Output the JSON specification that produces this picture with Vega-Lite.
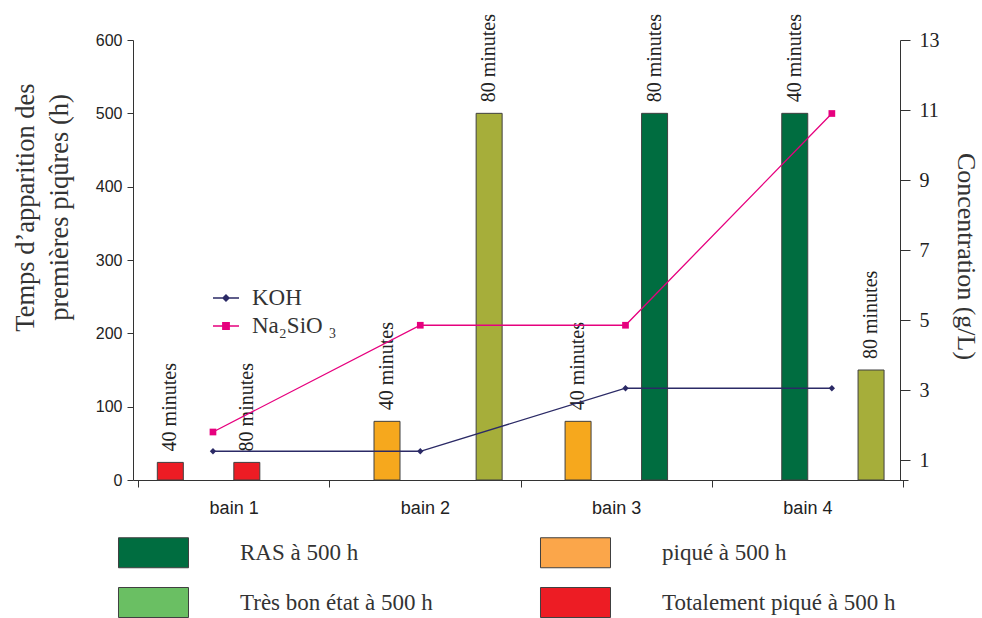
{
  "$schema": "https://vega.github.io/schema/vega-lite/v6.json",
  "width": 775,
  "height": 440,
  "autosize": {"type": "none"},
  "padding": {"left": 133, "top": 40, "right": 74, "bottom": 138},
  "background": "white",
  "config": {"view": {"stroke": null}, "axis": {"grid": false}},
  "datasets": {
    "barres": [
      {"bain": "bain 1", "duree": "40 minutes", "pos": 0.669, "temps": 24, "etat": "Totalement piqué à 500 h"},
      {"bain": "bain 1", "duree": "80 minutes", "pos": 1.069, "temps": 24, "etat": "Totalement piqué à 500 h"},
      {"bain": "bain 2", "duree": "40 minutes", "pos": 1.802, "temps": 80, "etat": "piqué à 500 h"},
      {"bain": "bain 2", "duree": "80 minutes", "pos": 2.336, "temps": 500, "etat": "Très bon état à 500 h"},
      {"bain": "bain 3", "duree": "40 minutes", "pos": 2.801, "temps": 80, "etat": "piqué à 500 h"},
      {"bain": "bain 3", "duree": "80 minutes", "pos": 3.201, "temps": 500, "etat": "RAS à 500 h"},
      {"bain": "bain 4", "duree": "40 minutes", "pos": 3.934, "temps": 500, "etat": "RAS à 500 h"},
      {"bain": "bain 4", "duree": "80 minutes", "pos": 4.333, "temps": 150, "etat": "Très bon état à 500 h"}
    ],
    "conc": [
      {"serie": "KOH", "bain": "bain 1", "pos": 0.892, "conc": 1.25},
      {"serie": "KOH", "bain": "bain 2", "pos": 1.976, "conc": 1.25},
      {"serie": "KOH", "bain": "bain 3", "pos": 3.049, "conc": 3.05},
      {"serie": "KOH", "bain": "bain 4", "pos": 4.128, "conc": 3.05},
      {"serie": "Na₂SiO ₃", "bain": "bain 1", "pos": 0.892, "conc": 1.8},
      {"serie": "Na₂SiO ₃", "bain": "bain 2", "pos": 1.976, "conc": 4.85},
      {"serie": "Na₂SiO ₃", "bain": "bain 3", "pos": 3.049, "conc": 4.85},
      {"serie": "Na₂SiO ₃", "bain": "bain 4", "pos": 4.128, "conc": 10.9}
    ]
  },
  "encoding": {
    "x": {
      "field": "pos",
      "type": "quantitative",
      "scale": {"domain": [0.5, 4.5], "nice": false, "zero": false},
      "axis": {
        "title": null,
        "values": [0.5, 1, 1.5, 2, 2.5, 3, 3.5, 4, 4.5],
        "labelExpr": "datum.value % 1 === 0 ? 'bain ' + datum.value : ''",
        "tickOpacity": {"condition": {"test": "datum.value % 1 === 0", "value": 0}, "value": 1},
        "tickSize": 7,
        "tickColor": "#333",
        "domainColor": "#333",
        "labelFont": "Liberation Sans",
        "labelFontSize": 18,
        "labelColor": "#222",
        "labelPadding": 12,
        "labelFlush": false,
        "labelOverlap": false
      }
    }
  },
  "layer": [
    {
      "data": {"name": "barres"},
      "encoding": {
        "y": {
          "field": "temps",
          "type": "quantitative",
          "scale": {"domain": [0, 600], "nice": false},
          "axis": {
            "values": [0, 100, 200, 300, 400, 500, 600],
            "title": ["Temps d’apparition des", "premières piqûres (h)"],
            "titleFont": "Liberation Serif",
            "titleFontSize": 26.5,
            "titleFontWeight": "normal",
            "titleColor": "#333",
            "titleLineHeight": 34,
            "titlePadding": 22,
            "titleY": 167,
            "labelFont": "Liberation Sans",
            "labelFontSize": 16,
            "labelColor": "#222",
            "labelPadding": 5,
            "tickSize": 6,
            "tickColor": "#333",
            "domainColor": "#333"
          }
        }
      },
      "layer": [
        {
          "mark": {"type": "bar", "orient": "vertical", "width": 26, "stroke": "#404040", "strokeWidth": 1},
          "encoding": {
            "color": {
              "field": "etat",
              "type": "nominal",
              "scale": {"range": ["#006D40", "#ED1C24", "#A6AE3A", "#F6A81D"]},
              "legend": null
            }
          }
        },
        {
          "mark": {"type": "text", "angle": 270, "align": "left", "baseline": "middle", "dx": 11, "font": "Liberation Serif", "fontSize": 20, "fill": "#222"},
          "encoding": {"text": {"field": "duree", "type": "nominal"}}
        },
        {
          "transform": [{"filter": "false"}],
          "mark": {"type": "point", "filled": true, "opacity": 1},
          "encoding": {
            "fill": {
              "field": "etat",
              "type": "nominal",
              "scale": {
                "domain": ["RAS à 500 h", "Très bon état à 500 h", "piqué à 500 h", "Totalement piqué à 500 h"],
                "range": ["#006D40", "#6ABF63", "#FBA64A", "#ED1C24"]
              },
              "legend": {
                "orient": "none",
                "legendX": -10,
                "legendY": 482,
                "title": null,
                "columns": 2,
                "columnPadding": 105,
                "rowPadding": 2,
                "padding": 0,
                "symbolType": "M-1.1667,-0.5H1.1667V0.5H-1.1667Z",
                "symbolSize": 3600,
                "symbolOpacity": 1,
                "symbolStrokeColor": "#404040",
                "symbolStrokeWidth": 1,
                "labelFont": "Liberation Serif",
                "labelFontSize": 23,
                "labelColor": "#333",
                "labelOffset": 56,
                "labelLimit": 500
              }
            }
          }
        }
      ]
    },
    {
      "data": {"name": "conc"},
      "encoding": {
        "y": {
          "field": "conc",
          "type": "quantitative",
          "scale": {"domain": [0.4286, 13], "nice": false, "zero": false},
          "axis": {
            "orient": "right",
            "offset": -8,
            "values": [1, 3, 5, 7, 9, 11, 13],
            "title": "Concentration (g/L)",
            "titleFont": "Liberation Serif",
            "titleFontSize": 26,
            "titleFontWeight": "normal",
            "titleColor": "#333",
            "titlePadding": 13,
            "titleY": 216,
            "labelFont": "Liberation Serif",
            "labelFontSize": 20,
            "labelColor": "#222",
            "labelPadding": 9,
            "tickSize": 10,
            "tickColor": "#333",
            "domainColor": "#333"
          }
        }
      },
      "layer": [
        {
          "mark": {"type": "line", "strokeWidth": 1.3},
          "encoding": {
            "stroke": {
              "field": "serie",
              "type": "nominal",
              "scale": {"domain": ["KOH", "Na₂SiO ₃"], "range": ["#2B2A66", "#E6007E"]},
              "legend": {
                "orient": "none",
                "legendX": 79,
                "legendY": 244,
                "title": null,
                "padding": 0,
                "rowPadding": 2,
                "symbolSize": 676,
                "symbolOpacity": 1,
                "symbolStrokeWidth": 1.3,
                "labelFont": "Liberation Serif",
                "labelFontSize": 23,
                "labelColor": "#333",
                "labelOffset": 12
              }
            }
          }
        },
        {
          "transform": [{"filter": "false"}],
          "mark": {"type": "point", "filled": false, "opacity": 1},
          "encoding": {
            "shape": {
              "field": "serie",
              "type": "nominal",
              "scale": {
                "domain": ["KOH", "Na₂SiO ₃"],
                "range": [
                  "M-1,0H1M0,-0.24L0.24,0L0,0.24L-0.24,0ZM0,-0.14L0.14,0L0,0.14L-0.14,0ZM0,-0.05L0.05,0L0,0.05L-0.05,0Z",
                  "M-1,0H1M-0.25,-0.25H0.25V0.25H-0.25ZM-0.15,-0.15H0.15V0.15H-0.15ZM-0.06,-0.06H0.06V0.06H-0.06Z"
                ]
              },
              "legend": {
                "orient": "none",
                "legendX": 79,
                "legendY": 244,
                "title": null,
                "padding": 0,
                "rowPadding": 2,
                "symbolSize": 676,
                "symbolOpacity": 1,
                "symbolStrokeWidth": 1.3,
                "labelFont": "Liberation Serif",
                "labelFontSize": 23,
                "labelColor": "#333",
                "labelOffset": 12
              }
            }
          }
        },
        {
          "transform": [{"filter": "datum.serie === 'KOH'"}],
          "mark": {"type": "point", "shape": "diamond", "filled": true, "size": 40, "opacity": 1, "color": "#2B2A66"}
        },
        {
          "transform": [{"filter": "datum.serie !== 'KOH'"}],
          "mark": {"type": "point", "shape": "square", "filled": true, "size": 45, "opacity": 1, "color": "#E6007E"}
        }
      ]
    }
  ],
  "resolve": {"scale": {"y": "independent"}}
}
